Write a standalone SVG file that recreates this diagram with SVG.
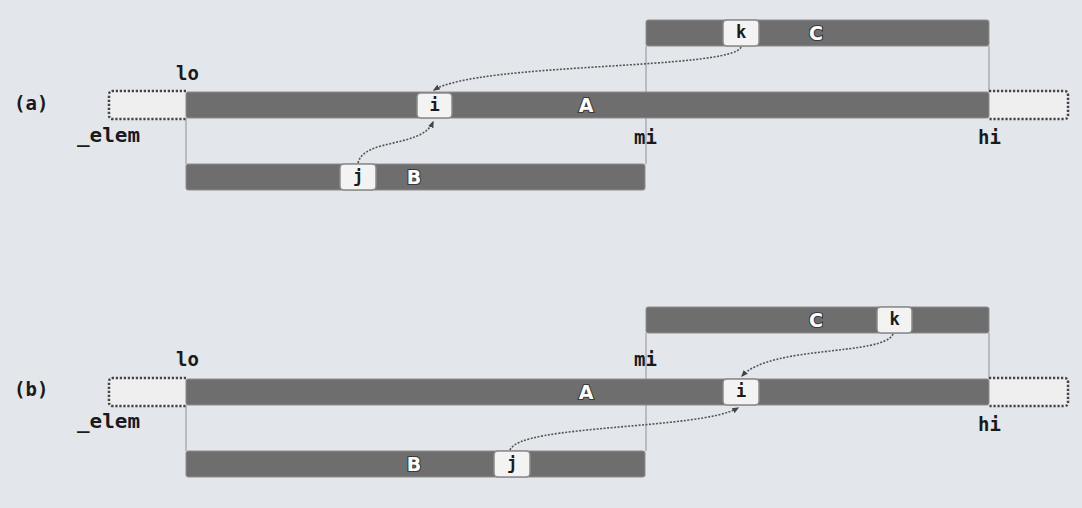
<svg xmlns="http://www.w3.org/2000/svg" width="1082" height="508" viewBox="0 0 1082 508">
<defs>
<marker id="ah" viewBox="0 0 10 10" refX="8" refY="5" markerWidth="7" markerHeight="7" orient="auto-start-reverse" markerUnits="userSpaceOnUse">
<path d="M0,1 L10,5 L0,9 Z" fill="#444"/>
</marker>
<style>
.bar{fill:#6e6e6e;stroke:#8c8c8c;stroke-width:1}
.ghost{fill:#efefef;stroke:#444;stroke-width:2.5;stroke-dasharray:2.2 1.8}
.vl{stroke:#9aa0a6;stroke-width:1.2;fill:none}
.mono{font-family:"DejaVu Sans Mono","Liberation Mono",monospace;font-weight:bold;fill:#1a1a1a}
.lab{font-size:19px}
.cell{fill:#f3f3f3;stroke:#8a8a8a;stroke-width:1.5}
.ctxt{font-size:17px;text-anchor:middle}
.big{font-family:"DejaVu Sans","Liberation Sans",sans-serif;font-weight:bold;font-size:19px;fill:#fff;stroke:#3a3a3a;stroke-width:2.2;paint-order:stroke;text-anchor:middle}
.conn{fill:none;stroke:#555;stroke-width:1.6;stroke-dasharray:2 1.5}
</style>
</defs>
<rect width="1082" height="508" fill="#e3e7eb"/>

<!-- ========== (a) ========== -->
<g id="a-guides">
<line class="vl" x1="186" y1="118" x2="186" y2="164"/>
<line class="vl" x1="646" y1="46" x2="646" y2="164"/>
<line class="vl" x1="989" y1="46" x2="989" y2="92"/>
</g>
<g id="a-elem-left"><path class="ghost" d="M186,91 H113 Q109,91 109,95 V115 Q109,119 113,119 H186"/></g>
<g id="a-elem-right"><path class="ghost" d="M989,91 H1064 Q1068,91 1068,95 V115 Q1068,119 1064,119 H989"/></g>
<g id="a-A"><rect class="bar" x="186" y="92" width="803" height="26" rx="2"/><text class="big" x="586" y="112">A</text></g>
<g id="a-B"><rect class="bar" x="186" y="164" width="459" height="26" rx="2"/><text class="big" x="414" y="184">B</text></g>
<g id="a-C"><rect class="bar" x="646" y="20" width="343" height="26" rx="2"/><text class="big" x="816" y="40">C</text></g>
<g id="a-i"><rect class="cell" x="417" y="93" width="35" height="25" rx="4"/><text class="mono ctxt" x="434.5" y="111">i</text></g>
<g id="a-j"><rect class="cell" x="340" y="164" width="36" height="26" rx="4"/><text class="mono ctxt" x="358" y="182">j</text></g>
<g id="a-k"><rect class="cell" x="723" y="20" width="36" height="26" rx="4"/><text class="mono ctxt" x="741" y="38">k</text></g>
<g id="a-labels">
<text class="mono lab" x="14" y="110">(a)</text>
<text class="mono lab" x="176" y="80">lo</text>
<text class="mono lab" x="77" y="142" textLength="63" lengthAdjust="spacingAndGlyphs">_elem</text>
<text class="mono lab" x="634" y="144">mi</text>
<text class="mono lab" x="978" y="144">hi</text>
</g>

<!-- ========== (b) ========== -->
<g id="b-guides">
<line class="vl" x1="186" y1="405" x2="186" y2="451"/>
<line class="vl" x1="646" y1="333" x2="646" y2="451"/>
<line class="vl" x1="989" y1="333" x2="989" y2="379"/>
</g>
<g id="b-elem-left"><path class="ghost" d="M186,378 H113 Q109,378 109,382 V402 Q109,406 113,406 H186"/></g>
<g id="b-elem-right"><path class="ghost" d="M989,378 H1064 Q1068,378 1068,382 V402 Q1068,406 1064,406 H989"/></g>
<g id="b-A"><rect class="bar" x="186" y="379" width="803" height="26" rx="2"/><text class="big" x="586" y="399">A</text></g>
<g id="b-B"><rect class="bar" x="186" y="451" width="459" height="26" rx="2"/><text class="big" x="414" y="471">B</text></g>
<g id="b-C"><rect class="bar" x="646" y="307" width="343" height="26" rx="2"/><text class="big" x="816" y="327">C</text></g>
<g id="b-i"><rect class="cell" x="723" y="379" width="36" height="26" rx="4"/><text class="mono ctxt" x="741" y="397">i</text></g>
<g id="b-j"><rect class="cell" x="494" y="451" width="36" height="26" rx="4"/><text class="mono ctxt" x="512" y="469">j</text></g>
<g id="b-k"><rect class="cell" x="877" y="307" width="35" height="26" rx="4"/><text class="mono ctxt" x="894.5" y="325">k</text></g>
<g id="b-labels">
<text class="mono lab" x="14" y="396">(b)</text>
<text class="mono lab" x="176" y="366">lo</text>
<text class="mono lab" x="77" y="428" textLength="63" lengthAdjust="spacingAndGlyphs">_elem</text>
<text class="mono lab" x="634" y="366">mi</text>
<text class="mono lab" x="978" y="431">hi</text>
</g>

<!-- ========== connectors ========== -->
<g id="connectors">
<path class="conn" d="M741,47 C732,70 480,62 434,90" marker-end="url(#ah)"/>
<path class="conn" d="M358,163 C364,138 422,148 433,122" marker-end="url(#ah)"/>
<path class="conn" d="M893,334 C884,356 770,345 742,376" marker-end="url(#ah)"/>
<path class="conn" d="M510,450 C520,424 700,430 738,408" marker-end="url(#ah)"/>
</g>
</svg>
